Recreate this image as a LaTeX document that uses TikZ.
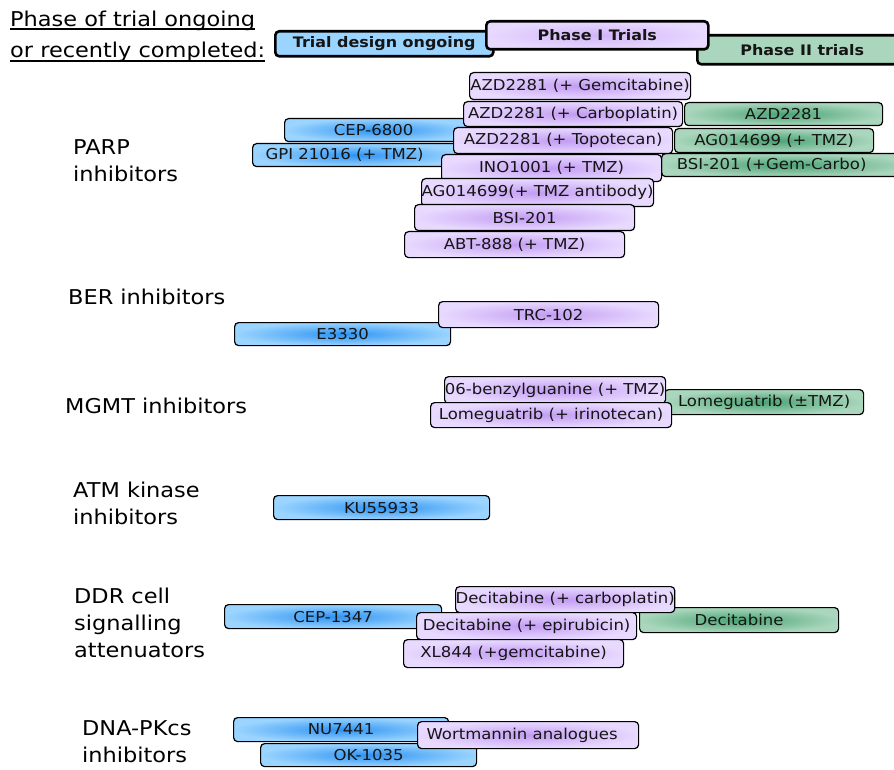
\documentclass[tikz,border=0pt]{standalone}
\usepackage{fontspec}
\setmainfont{DejaVu Sans}[FakeStretch=1.1]

\begin{document}
\begin{tikzpicture}[x=1pt, y=-1pt,
    drug/.style={draw=black, line width=1.2pt, rounded corners=4pt, anchor=north west,
        inner sep=0pt, text=textColour, font=\fontsize{15}{18}\selectfont},
    designbox/.style={drug, inner color=blueDark, outer color=blueLight},
    phaseonebox/.style={drug, inner color=purpleDark, outer color=purpleLight},
    phasetwobox/.style={drug, inner color=greenDark, outer color=greenLight},
    keybox/.style={draw=black, line width=2.6pt, rounded corners=4pt, anchor=north west,
        inner sep=0pt, text=textColour, font=\fontsize{14.5}{17}\selectfont\bfseries},
    category/.style={anchor=base west, align=left, inner sep=0pt, font=\fontsize{20.4}{27}\selectfont},
    heading/.style={anchor=base west, inner sep=0pt, font=\fontsize{20.4}{27}\selectfont},
    uline/.style={line width=1.2pt}]

    \definecolor{textColour}{HTML}{151515}
    \definecolor{blueLight}{HTML}{9AD4FF}
    \definecolor{blueDark}{HTML}{2E93F2}
    \definecolor{purpleLight}{HTML}{E8D9FF}
    \definecolor{purpleDark}{HTML}{C39CF3}
    \definecolor{greenLight}{HTML}{A9D6BC}
    \definecolor{greenDark}{HTML}{4AA374}

    \useasboundingbox[fill=white] (0,0) rectangle (894,770);

    % Heading
    \node[heading] (hdrTop) at (10,27) {Phase of trial ongoing};
    \node[heading] (hdrBottom) at (10,58) {or recently completed:};
    \draw[uline] ([yshift=-2pt]hdrTop.base west) -- ([yshift=-2pt]hdrTop.base east);
    \draw[uline] ([yshift=-3pt]hdrBottom.base west) -- ([yshift=-3pt]hdrBottom.base east);

    % Key boxes
    \node[keybox, fill=blueLight, minimum width=218, minimum height=25] (keyDesign) at (274,30) {Trial design ongoing};
    \node[keybox, fill=greenLight, minimum width=210, minimum height=29] (keyTwo) at (696,34) {Phase II trials};
    \node[keybox, inner color=purpleDark!60!purpleLight, outer color=purpleLight, minimum width=222, minimum height=28] (keyOne) at (485,20) {Phase I Trials};

    % Categories (base = last line)
    \node[category] (catParp) at (73,182) {PARP\\inhibitors};
    \node[category] (catBer) at (68,304) {BER inhibitors};
    \node[category] (catMgmt) at (65,413) {MGMT inhibitors};
    \node[category] (catAtm) at (73,524) {ATM kinase\\inhibitors};
    \node[category] (catDdr) at (74,657) {DDR cell\\signalling\\attenuators};
    \node[category] (catDnapk) at (82,762) {DNA-PKcs\\inhibitors};

    % PARP inhibitors
    \node[designbox, minimum width=186, minimum height=23] (cepA) at (284,118) {CEP-6800\hspace*{8pt}};
    \node[designbox, minimum width=208, minimum height=23] (gpi) at (252,143) {GPI 21016 (+ TMZ)\hspace*{24pt}};
    \node[phasetwobox, minimum width=198, minimum height=23] (azdTwo) at (684,102) {AZD2281};
    \node[phasetwobox, minimum width=199, minimum height=24] (agTwo) at (674,128) {AG014699 (+ TMZ)};
    \node[phasetwobox, minimum width=250, minimum height=23] (bsiTwo) at (661,153) {BSI-201 (+Gem-Carbo)\hspace*{30pt}};
    \node[phaseonebox, minimum width=221, minimum height=27] (azdGem) at (469,72) {AZD2281 (+ Gemcitabine)};
    \node[phaseonebox, minimum width=219, minimum height=25] (azdCarbo) at (463,101) {AZD2281 (+ Carboplatin)};
    \node[phaseonebox, minimum width=219, minimum height=26] (azdTopo) at (453,127) {AZD2281 (+ Topotecan)};
    \node[phaseonebox, minimum width=220, minimum height=27] (ino) at (441,154) {INO1001 (+ TMZ)};
    \node[phaseonebox, minimum width=230, minimum height=28] (agAnti) at (421,178) {AG014699(+ TMZ antibody)};
    \node[phaseonebox, minimum width=220, minimum height=26] (bsiOne) at (414,204) {BSI-201};
    \node[phaseonebox, minimum width=220, minimum height=26] (abt) at (404,231) {ABT-888 (+ TMZ)};

    % BER inhibitors
    \node[designbox, minimum width=216, minimum height=23] (eThree) at (234,322) {E3330};
    \node[phaseonebox, minimum width=220, minimum height=26] (trc) at (438,301) {TRC-102};

    % MGMT inhibitors
    \node[phasetwobox, minimum width=199, minimum height=25] (lomeTwo) at (664,389) {Lomeguatrib (±TMZ)};
    \node[phaseonebox, minimum width=221, minimum height=27] (benzyl) at (444,376) {06-benzylguanine (+ TMZ)};
    \node[phaseonebox, minimum width=241, minimum height=25] (lomeIri) at (430,402) {Lomeguatrib (+ irinotecan)};

    % ATM kinase inhibitors
    \node[designbox, minimum width=216, minimum height=24] (ku) at (273,495) {KU55933};

    % DDR cell signalling attenuators
    \node[designbox, minimum width=217, minimum height=24] (cepB) at (224,604) {CEP-1347};
    \node[phasetwobox, minimum width=199, minimum height=25] (deciTwo) at (639,607) {Decitabine};
    \node[phaseonebox, minimum width=218, minimum height=26] (deciCarbo) at (455,586) {Decitabine (+ carboplatin)};
    \node[phaseonebox, minimum width=220, minimum height=27] (deciEpi) at (416,612) {Decitabine (+ epirubicin)};
    \node[phaseonebox, minimum width=220, minimum height=28] (xl) at (403,639) {XL844 (+gemcitabine)};

    % DNA-PKcs inhibitors
    \node[designbox, minimum width=215, minimum height=24] (nu) at (233,717) {NU7441};
    \node[designbox, minimum width=216, minimum height=23] (ok) at (260,743) {OK-1035};
    \node[phaseonebox, minimum width=221, minimum height=27] (wort) at (417,721) {Wortmannin analogues\hspace*{12pt}};

\end{tikzpicture}
\end{document}
